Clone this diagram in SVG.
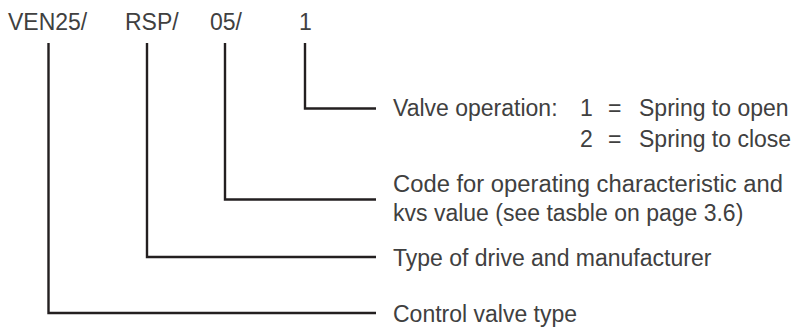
<svg xmlns="http://www.w3.org/2000/svg" width="796" height="329" viewBox="0 0 796 329">
<style>
text{font-family:"Liberation Sans",Arial,sans-serif;font-size:23px;fill:#404040}
.c{fill:none;stroke:#231f20;stroke-width:2.4}
</style>
<rect width="796" height="329" fill="#fff"/>
<g id="codes">
<text x="8" y="30">VEN25/</text>
<text x="125" y="30">RSP/</text>
<text x="210" y="30">05/</text>
<text x="299" y="30">1</text>
</g>
<g id="connectors">
<path class="c" d="M305,43V108.5H376"/>
<path class="c" d="M225,43V199.5H376"/>
<path class="c" d="M147,43V257H376"/>
<path class="c" d="M48.5,43V313H376"/>
</g>
<g id="valve-operation">
<text x="393" y="116">Valve operation:</text>
<text x="580" y="116">1</text>
<text x="608" y="116">=</text>
<text x="639" y="116">Spring to open</text>
<text x="580" y="147">2</text>
<text x="608" y="147">=</text>
<text x="639" y="147">Spring to close</text>
</g>
<g id="code-characteristic">
<text x="393" y="192" textLength="390" lengthAdjust="spacingAndGlyphs">Code for operating characteristic and</text>
<text x="393" y="221">kvs value (see tasble on page 3.6)</text>
</g>
<g id="drive">
<text x="393" y="266">Type of drive and manufacturer</text>
</g>
<g id="valve-type">
<text x="393" y="322">Control valve type</text>
</g>
</svg>
